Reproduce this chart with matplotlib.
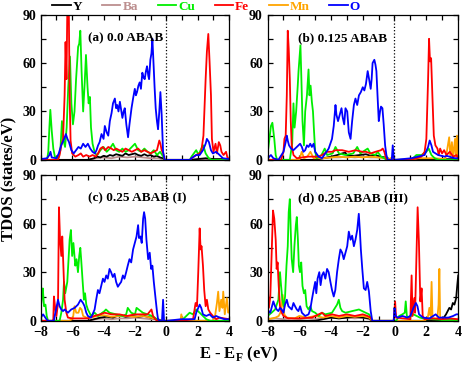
import matplotlib
matplotlib.use("Agg")
import matplotlib.pyplot as plt
from matplotlib.ticker import MultipleLocator

plt.rcParams['font.family'] = ['Liberation Serif', 'DejaVu Serif']
plt.rcParams['font.weight'] = 'bold'
plt.rcParams['mathtext.fontset'] = 'custom'
plt.rcParams['mathtext.bf'] = 'Liberation Serif:bold'

species = ["Y", "Ba", "Cu", "Fe", "Mn", "O"]
colors = {"Y": "black", "Ba": "#bc8f8f", "Cu": "#00ee00", "Fe": "red", "Mn": "orange", "O": "blue"}
panel_titles = ["(a) 0.0 ABAB", "(b) 0.125 ABAB", "(c) 0.25 ABAB (I)", "(d) 0.25 ABAB (III)"]
x_ticks = [-8, -6, -4, -2, 0, 2, 4]
y_ticks = [0, 30, 60, 90]

# ---------------- panel (a) ----------------
a_Y_e = [-8, -5.0, -4.8, -4.6, -4.4, -4.2, -4.0, -3.8, -3.6, -3.4, -3.2, -3.0, -2.8, -2.6, -2.4, -2.2, -2.0, -1.8, -1.6, -1.4, -1.2, -1.0, -0.8, -0.6, -0.4, -0.2, -0.1, 0, 1.5, 2.0, 2.5, 3.0, 3.5, 4.0]
a_Y_v = [0, 0, 0.5, 1, 2, 1.5, 2.5, 2, 3, 2.5, 3.5, 3, 2.5, 4, 3, 3.5, 4, 3, 2.5, 3.5, 2.5, 3, 2, 2.5, 1.5, 1, 0, 0, 0, 0.5, 1, 0.5, 0.5, 0.3]
a_Ba_e = [-8, -5.0, -4.5, -4.0, -3.5, -3.0, -2.5, -2.0, -1.5, -1.0, -0.5, -0.1, 0, 4]
a_Ba_v = [0, 0, 1, 1.5, 1, 2, 1.5, 2, 1.5, 1, 1, 0, 0, 0]
a_Cu_e = [-8.0, -7.6, -7.52, -7.45, -7.39, -7.3, -7.2, -7.1, -6.9, -6.75, -6.65, -6.55, -6.45, -6.35, -6.25, -6.14, -6.05, -5.95, -5.85, -5.75, -5.62, -5.55, -5.48, -5.4, -5.3, -5.2, -5.12, -5.02, -4.95, -4.87, -4.8, -4.7, -4.55, -4.4, -4.2, -4.0, -3.8, -3.6, -3.4, -3.2, -3.0, -2.8, -2.6, -2.4, -2.2, -2.0, -1.8, -1.6, -1.4, -1.2, -1.0, -0.8, -0.6, -0.4, -0.2, -0.1, 0.0,
          1.5, 1.6, 1.75, 1.9, 2.05, 2.22, 2.35, 2.5, 2.7, 2.9, 4.0]
a_Cu_v = [0, 0, 5, 20, 31, 18, 7, 2, 1, 6, 24, 12, 8, 20, 45, 64, 35, 22, 30, 50, 70, 72, 80, 55, 30, 48, 65, 45, 35, 39, 20, 10, 4, 3, 6, 8, 5, 7, 10, 6, 5, 7, 5, 6, 8, 10, 6, 5, 7, 5, 4, 6, 3, 5, 2, 0, 0,
          0, 2, 4, 6, 3, 7, 9, 4, 1, 0, 0]
a_Fe_e = [-8.0, -6.9, -6.8, -6.69, -6.58, -6.48, -6.42, -6.36, -6.3, -6.22, -6.16, -6.1, -6.0, -5.8, -5.6, -5.45, -5.3, -5.1, -4.9, -4.7, -4.5, -4.35, -4.2, -4.05, -3.9, -3.7, -3.5, -3.35, -3.2, -3.0, -2.8, -2.6, -2.4, -2.2, -2.0, -1.8, -1.6, -1.4, -1.2, -1.0, -0.8, -0.6, -0.45, -0.38, -0.3, -0.2, -0.1, 0.0,
          1.5, 1.6, 1.9, 2.1, 2.22, 2.36, 2.5, 2.58, 2.67, 2.75, 2.84, 2.9, 3.0, 3.13, 3.22, 3.34, 3.43, 3.51, 3.64, 3.8, 3.9, 4.0]
a_Fe_v = [0, 0, 3, 9, 13, 40, 73, 50, 100, 100, 40, 12, 4, 2, 3, 4, 2, 3, 2, 3, 2, 4, 7, 8, 6, 8, 7, 6, 7, 6, 5, 7, 6, 5, 6, 7, 5, 6, 5, 4, 5, 6, 12, 10, 6, 4, 0, 0,
          0, 1, 3, 4, 5, 15, 50, 67, 78, 61, 40, 13, 5, 10, 4, 11, 9, 5, 3, 5, 1, 1]
a_O_e = [-8.0, -7.6, -7.45, -7.38, -7.3, -7.0, -6.85, -6.7, -6.55, -6.4, -6.3, -6.2, -6.05, -5.9, -5.75, -5.6, -5.45, -5.3, -5.15, -5.0, -4.85, -4.7, -4.55, -4.45, -4.35, -4.25, -4.13, -4.0, -3.92, -3.8, -3.7, -3.6, -3.49, -3.4, -3.28, -3.2, -3.13, -3.05, -2.96, -2.88, -2.8, -2.72, -2.65, -2.55, -2.44, -2.35, -2.22, -2.12, -2.01, -1.94, -1.87, -1.78, -1.7, -1.62, -1.53, -1.45, -1.38, -1.3, -1.23, -1.15, -1.1, -1.02, -0.95, -0.89, -0.81, -0.75, -0.68, -0.6, -0.53, -0.45, -0.38, -0.3, -0.21, -0.11, 0.0,
         1.5, 1.59, 1.9, 2.12, 2.33, 2.5, 2.58, 2.71, 2.84, 2.96, 3.17, 3.39, 3.6, 4.0]
a_O_v = [0.5, 1, 3, 5, 1.5, 1, 4, 9, 12, 16, 13, 11, 6, 4, 6, 8, 7, 10, 8, 10, 7, 5, 4, 6, 9, 11, 16, 13, 21, 17, 15, 24, 29, 35, 38, 32, 34, 30, 36, 31, 26, 30, 32, 22, 14, 22, 32, 38, 44, 40, 42, 46, 48, 44, 54, 51, 50, 55, 58, 52, 50, 62, 66, 75, 58, 45, 32, 24, 19, 30, 42, 28, 5, 0, 0,
         0, 1, 3, 3, 6, 10, 13, 11, 6, 4, 5, 3, 1, 0.5]

# ---------------- panel (b) ----------------
b_Y_e = [-8, -5.0, -4.5, -4.0, -3.6, -3.3, -3.1, -3.0, -2.6, -2.2, -1.8, -1.5, -1.2, -0.9, -0.6, -0.3, 0, 4]
b_Y_v = [0, 0, 1, 2, 3, 4, 4.5, 3, 2.5, 3, 3.5, 2.5, 3, 2, 1.5, 0.5, 0, 0.5]
b_Ba_e = [-8, -5.0, -4.5, -4.0, -3.5, -3.0, -2.5, -2.0, -1.5, -1.0, -0.5, -0.1, 0, 4]
b_Ba_v = [0, 0, 1, 1.5, 1.5, 2, 1.5, 2, 1.5, 1.5, 1, 0, 0, 0]
b_Cu_e = [-8.0, -7.96, -7.79, -7.7, -7.58, -7.49, -7.4, -6.6, -6.45, -6.37, -6.3, -6.2, -6.1, -6.05, -5.93, -5.87, -5.8, -5.71, -5.63, -5.52, -5.42, -5.36, -5.29, -5.21, -5.14, -5.08, -5.0, -4.9, -4.6, -4.4, -4.25, -3.9, -3.72, -3.5, -3.1, -2.6, -2.35, -2.15, -2.0, -1.69, -1.52, -1.2, -1.06, -0.85, -0.64, -0.5, 0.0,
          1.06, 1.38, 1.7, 2.01, 2.16, 2.33, 2.54, 2.8, 4.0]
b_Cu_v = [6, 7, 21, 23, 13, 3, 0, 0, 10, 35, 20, 30, 46, 55, 71, 50, 24, 9, 30, 40, 56, 40, 46, 36, 30, 19, 5, 1, 3, 7, 3, 4, 8, 4, 3, 4, 8, 4, 5, 7, 4, 3, 5, 2, 1, 0, 0,
          0, 3, 3, 5, 7, 3, 1, 0, 0]
b_Fe_e = [-8.0, -7.15, -7.0, -6.94, -6.86, -6.79, -6.73, -6.67, -6.6, -6.54, -6.48, -6.37, -6.16, -5.5, -4.78, -4.57, -4.25, -3.94, -3.72, -3.3, -2.88, -2.46, -2.03, -1.8, -1.5, -1.2, -0.85, -0.74, -0.64, -0.53, -0.42, 0.0,
          1.06, 1.7, 1.9, 2.01, 2.12, 2.18, 2.24, 2.31, 2.39, 2.48, 2.58, 2.71, 2.79, 2.88, 3.0, 3.13, 3.28, 3.49, 3.7, 3.92, 4.0]
b_Fe_v = [0, 0, 5, 13, 15, 40, 80, 69, 50, 24, 9, 3, 1, 2, 2, 3, 5, 5, 6, 6, 5, 6, 5, 5, 4, 5, 6, 7, 5, 1, 0, 0,
          0, 2, 5, 13, 50, 75, 61, 63, 40, 15, 9, 7, 3, 7, 4, 6, 3, 5, 2, 3, 1]
b_Mn_e = [-8, -6.0, -5.85, -5.7, -5.5, -5.3, -5.1, -4.5, -4.0, -3.5, -3.0, -2.5, -2.0, -1.5, -1.0, -0.5, -0.3, -0.1, 0,
          1.0, 1.5, 2.0, 2.5, 3.2, 3.3, 3.45, 3.52, 3.62, 3.7, 3.82, 3.87, 3.94, 4.0]
b_Mn_v = [0, 0, 5, 1, 2, 5, 1, 1, 1.5, 2, 1.5, 2, 1.5, 2, 1.5, 1, 0.5, 2, 0,
          0, 1, 1, 1, 0.5, 5, 14, 2, 11, 2, 13, 2, 15, 3]
b_O_e = [-8.0, -7.79, -7.64, -7.32, -7.0, -6.86, -6.79, -6.73, -6.65, -6.52, -6.37, -6.16, -5.95, -5.84, -5.74, -5.63, -5.52, -5.42, -5.31, -5.21, -5.1, -5.0, -4.78, -4.57, -4.36, -4.15, -3.94, -3.83, -3.72, -3.66, -3.56, -3.45, -3.34, -3.26, -3.17, -3.09, -2.98, -2.88, -2.77, -2.67, -2.56, -2.46, -2.35, -2.24, -2.12, -2.0, -1.9, -1.8, -1.69, -1.6, -1.5, -1.44, -1.38, -1.27, -1.2, -1.14, -1.06, -0.99, -0.91, -0.85, -0.76, -0.68, -0.59, -0.51, -0.42, -0.17, -0.11, -0.04, 0.0,
         1.06, 1.9, 2.12, 2.22, 2.33, 2.43, 2.75, 3.17, 3.28, 3.81, 4.0]
b_O_v = [1, 3, 1, 0, 5, 11, 15, 12, 9, 7, 6, 8, 10, 8, 5, 6, 9, 8, 10, 8, 10, 5, 2, 1, 4, 7, 13, 21, 34, 28, 24, 28, 32, 26, 22, 32, 30, 17, 13, 24, 34, 38, 34, 40, 42, 45, 43, 47, 55, 50, 44, 50, 60, 62, 59, 55, 38, 24, 30, 33, 32, 22, 9, 3, 0, 0, 9, 1, 0,
         1, 3, 8, 12, 9, 5, 3, 2, 2.5, 1, 1]

# ---------------- panel (c) ----------------
c_Y_e = [-8, -5.0, -4.6, -4.2, -3.8, -3.4, -3.0, -2.6, -2.2, -1.8, -1.4, -1.0, -0.6, -0.3, 4]
c_Y_v = [0, 0, 1, 2, 2.5, 2, 3.5, 2.5, 3, 2.5, 3, 2, 1, 0, 0]
c_Ba_e = [-8, -5.0, -4.5, -4.0, -3.5, -3.0, -2.5, -2.0, -1.5, -1.0, -0.5, -0.3, 4]
c_Ba_v = [0, 0, 1, 1.5, 1, 1.5, 1.5, 2, 1.5, 1, 1, 0, 0]
c_Cu_e = [-8.0, -7.92, -7.87, -7.79, -7.7, -7.62, -7.53, -6.8, -6.69, -6.58, -6.52, -6.44, -6.31, -6.16, -6.08, -6.0, -5.92, -5.8, -5.72, -5.63, -5.55, -5.48, -5.42, -5.33, -5.25, -5.18, -5.1, -5.0, -4.79, -4.57, -4.36, -3.94, -3.85, -3.62, -3.2, -2.77, -2.56, -2.46, -2.24, -2.0, -1.9, -1.5, -1.2, -0.9, -0.6, -0.4, 0.0,
          0.95, 1.27, 1.48, 1.69, 1.9, 2.12, 2.33, 2.54, 2.8, 4.0]
c_Cu_v = [8, 15, 20, 9, 10, 3, 0, 0, 5, 13, 24, 17, 24, 50, 56, 40, 48, 34, 38, 30, 40, 45, 37, 24, 13, 17, 10, 7, 3, 5, 3, 6, 7, 5, 4, 3, 4, 8, 5, 4, 8, 5, 4, 3, 1, 0, 0,
          0, 3, 5, 4, 7, 5, 3, 1, 0, 0]
c_Fe_e = [-8.0, -7.25, -7.2, -7.16, -7.07, -7.0, -6.9, -6.84, -6.77, -6.69, -6.63, -6.56, -6.48, -6.37, -6.27, -6.0, -5.5, -5.0, -4.6, -4.2, -3.94, -3.5, -3.0, -2.5, -2.0, -1.5, -1.2, -0.95, -0.85, -0.7, -0.6, 0.0,
          0.95, 1.7, 1.86, 1.95, 2.03, 2.12, 2.18, 2.24, 2.33, 2.41, 2.5, 2.58, 2.67, 2.79, 2.96, 3.17, 3.39, 4.0]
c_Fe_v = [0, 0, 1, 15, 7, 3, 11, 70, 50, 40, 52, 34, 13, 5, 2, 1.5, 1.5, 1.5, 3, 4, 5, 4, 4, 3, 4, 4, 4, 7, 3, 1, 0, 0,
          0, 1, 11, 9, 30, 57, 44, 46, 34, 19, 9, 13, 7, 5, 3, 1, 2, 1]
c_Mn_e = [-8, -6.2, -6.0, -5.93, -5.85, -5.74, -5.6, -5.5, -5.4, -5.3, -5.1, -4.8, -4.4, -4.0, -3.5, -3.0, -2.5, -2.0, -1.5, -1.0, -0.6, -0.4, 0, 0.9, 0.95, 1.05,
          2.95, 3.1, 3.22, 3.3, 3.38, 3.49, 3.57, 3.62, 3.72, 3.85, 3.94, 4.0]
c_Mn_v = [0, 0, 1, 3, 9, 5, 5, 8, 7, 3, 2, 2, 3, 3.5, 2.5, 3, 3, 2.5, 3, 2, 1, 0, 0, 0, 4, 0,
          0, 3, 11, 18, 6, 13, 8, 18, 4, 14, 5, 6]
c_O_e = [-8.0, -7.85, -7.64, -7.54, -7.16, -7.11, -6.9, -6.8, -6.69, -6.58, -6.48, -6.27, -6.06, -5.84, -5.63, -5.46, -5.31, -5.21, -5.1, -5.0, -4.79, -4.57, -4.47, -4.36, -4.26, -4.15, -4.04, -3.94, -3.83, -3.73, -3.62, -3.52, -3.41, -3.3, -3.2, -3.09, -2.99, -2.88, -2.77, -2.67, -2.56, -2.46, -2.35, -2.24, -2.12, -2.01, -1.9, -1.8, -1.74, -1.65, -1.57, -1.48, -1.42, -1.35, -1.27, -1.16, -1.06, -0.97, -0.89, -0.8, -0.68, -0.59, -0.53, -0.42, -0.28, -0.21, -0.15, 0.0,
         0.95, 1.8, 1.9, 2.12, 2.22, 2.33, 2.54, 2.75, 2.96, 3.17, 3.39, 3.7, 4.0]
c_O_v = [2, 4, 1, 0, 0, 3, 13, 9, 7, 6, 7, 5, 7, 8, 10, 13, 11, 9, 5, 3, 2, 7, 13, 19, 17, 21.5, 26, 24, 28, 26, 32, 30, 27, 29, 24, 21, 22.5, 24, 28, 26, 30, 34, 38, 36, 44, 48, 52, 59, 51, 52, 48, 63, 67, 63, 50, 38, 42, 32, 34, 24, 13, 5, 1, 0, 0, 13, 0, 0,
         1, 1, 5, 10, 8, 4, 3, 4, 2, 3, 2, 1, 1]

# ---------------- panel (d) ----------------
d_Y_e = [-8, -5, -4.5, -4.0, -3.5, -3.0, -2.5, -2.0, -1.6, -1.4, 2.9, 3.04, 3.25, 3.46, 3.57, 3.68, 3.78, 3.89, 3.96, 4.02]
d_Y_v = [0, 0, 1, 2, 1.5, 2, 2.5, 2, 1.5, 0, 0, 1, 4, 8, 7, 11, 10, 14, 22, 28]
d_Ba_e = [-8, -7.5, -7.0, -6.5, -6.0, -5.5, -5.0, -4.5, -4.0, -3.5, -3.0, -2.5, -2.0, -1.6, -1.4, 4]
d_Ba_v = [1, 1.5, 1, 1.5, 1, 1.5, 1, 1.5, 2, 1.5, 2, 1.5, 2, 1, 0, 0]
d_Cu_e = [-8.0, -7.75, -7.53, -7.32, -7.22, -7.15, -7.07, -6.98, -6.9, -6.81, -6.73, -6.67, -6.6, -6.54, -6.48, -6.39, -6.31, -6.22, -6.16, -6.09, -6.03, -5.96, -5.88, -5.8, -5.71, -5.63, -5.54, -5.42, -5.31, -5.2, -5.0, -4.78, -4.57, -4.36, -3.94, -3.62, -3.51, -3.41, -3.3, -3.09, -2.67, -2.24, -1.82, -1.6, -1.45, -1.4,
          0.1, 0.3, 0.5, 0.65, 0.71, 0.78, 0.9, 1.2, 1.4, 1.6, 2.0, 2.5, 3.0, 4.0]
d_Cu_v = [3, 5, 7, 13, 30, 21.5, 13, 9, 15, 34, 46, 67, 75, 55, 38, 30, 46, 59, 64, 50, 34, 30, 36, 21.5, 17, 19, 9, 7, 9, 6, 5, 3, 5, 4, 5, 10, 13, 8, 6, 5, 6, 7, 5, 4, 1, 0,
          0, 3, 4, 5, 12, 3, 2, 4, 3, 2, 1, 1, 0.5, 0.5]
d_Fe_e = [-8.0, -7.92, -7.83, -7.75, -7.66, -7.58, -7.49, -7.43, -7.37, -7.3, -7.22, -7.11, -7.0, -6.7, -6.0, -5.2, -4.57, -4.36, -3.94, -3.5, -3.0, -2.5, -2.0, -1.7, -1.5, -1.4,
          -0.05, 0.04, 0.1, 1.0, 1.08, 1.14, 1.25, 1.3, 1.46, 1.54, 1.63, 1.71, 1.78, 1.9, 2.5, 3.0, 3.5, 4.0]
d_Fe_v = [22, 8, 15, 40, 68, 63, 50, 32, 36, 21.5, 9, 5, 3, 1.5, 1.5, 2, 5, 3, 4, 3, 4, 3, 4, 3, 2, 0,
          0, 12, 2, 1, 28, 3, 14, 5, 70, 49, 12, 20, 3, 1, 1.5, 1, 1.5, 1]
d_Mn_e = [-8, -7.5, -7.3, -7.15, -7.05, -6.95, -6.8, -6.3, -6.0, -5.5, -5.0, -4.5, -4.0, -3.5, -3.0, -2.5, -2.0, -1.6, -1.4,
          1.9, 2.1, 2.2, 2.28, 2.34, 2.4, 2.7, 2.78, 2.83, 2.88, 3.0, 4.0]
d_Mn_v = [1, 2, 3, 6, 16, 4, 2, 1.5, 3, 2, 3, 2, 3, 2, 3, 2.5, 3, 2, 0,
          0, 2, 8, 3, 24, 1, 1, 10, 32, 2, 0.5, 0.5]
d_O_e = [-8.0, -7.92, -7.83, -7.75, -7.64, -7.53, -7.43, -7.32, -7.22, -7.11, -7.0, -6.9, -6.79, -6.69, -6.48, -6.37, -6.27, -6.16, -6.06, -5.95, -5.84, -5.63, -5.42, -5.31, -5.21, -5.1, -5.0, -4.93, -4.85, -4.74, -4.66, -4.57, -4.47, -4.36, -4.25, -4.15, -4.04, -3.94, -3.83, -3.73, -3.62, -3.51, -3.41, -3.3, -3.2, -3.09, -2.98, -2.88, -2.77, -2.67, -2.56, -2.46, -2.35, -2.25, -2.18, -2.12, -2.03, -1.93, -1.82, -1.72, -1.61, -1.5, -1.4,
         -0.05, 0.0, 0.08, 0.2, 0.5, 0.8, 1.0, 1.2, 1.35, 1.45, 1.55, 1.8, 2.2, 2.6, 2.8, 3.0, 3.4, 3.7, 3.9, 4.0]
d_O_v = [3, 6, 5, 8, 12, 9, 7, 6, 8, 7, 5, 10, 13, 9, 7, 11, 9, 7, 6, 9, 5, 3, 4, 7, 13, 19, 24, 17, 26, 30, 22, 28, 30, 26, 32, 30, 24, 19, 15, 19, 30, 38, 44, 42, 38, 42, 46, 55, 50, 52.5, 46, 50, 56, 66, 55, 44, 32, 20, 19, 24, 18, 6, 0,
         0, 8, 3, 2, 3, 2, 3, 8, 11, 9, 4, 2, 1.5, 4, 2, 2, 2, 3, 4, 4]

panels = [
    {"Y": (a_Y_e, a_Y_v), "Ba": (a_Ba_e, a_Ba_v), "Cu": (a_Cu_e, a_Cu_v), "Fe": (a_Fe_e, a_Fe_v), "O": (a_O_e, a_O_v)},
    {"Y": (b_Y_e, b_Y_v), "Ba": (b_Ba_e, b_Ba_v), "Cu": (b_Cu_e, b_Cu_v), "Fe": (b_Fe_e, b_Fe_v), "Mn": (b_Mn_e, b_Mn_v), "O": (b_O_e, b_O_v)},
    {"Y": (c_Y_e, c_Y_v), "Ba": (c_Ba_e, c_Ba_v), "Cu": (c_Cu_e, c_Cu_v), "Fe": (c_Fe_e, c_Fe_v), "Mn": (c_Mn_e, c_Mn_v), "O": (c_O_e, c_O_v)},
    {"Y": (d_Y_e, d_Y_v), "Ba": (d_Ba_e, d_Ba_v), "Cu": (d_Cu_e, d_Cu_v), "Fe": (d_Fe_e, d_Fe_v), "Mn": (d_Mn_e, d_Mn_v), "O": (d_O_e, d_O_v)},
]

draw_order = ["Ba", "Y", "Mn", "Cu", "Fe", "O"]

fig = plt.figure(figsize=(4.63, 3.65), dpi=100)
rects = [
    [0.088, 0.562, 0.407, 0.398],
    [0.578, 0.562, 0.411, 0.398],
    [0.088, 0.121, 0.407, 0.400],
    [0.578, 0.121, 0.411, 0.400],
]

handles = {}
for i, (rect, data) in enumerate(zip(rects, panels)):
    ax = fig.add_axes(rect)
    for sp in draw_order:
        if sp not in data:
            continue
        e, v = data[sp]
        ln, = ax.plot(e, v, color=colors[sp], lw=1.3, label=sp)
        handles[sp] = ln
    ax.axvline(0, color="black", ls=":", lw=0.9)
    ax.set_xlim(-8, 4)
    ax.set_ylim(0, 90)
    ax.set_xticks(x_ticks)
    ax.set_yticks(y_ticks)
    ax.xaxis.set_minor_locator(MultipleLocator(1))
    ax.yaxis.set_minor_locator(MultipleLocator(15))
    ax.tick_params(which="both", direction="in", top=True, right=True, length=3.5, width=0.9, labelsize=10)
    if i < 2:
        ax.tick_params(labelbottom=False)
    for s in ax.spines.values():
        s.set_linewidth(0.9)
    for lab in ax.get_xticklabels() + ax.get_yticklabels():
        lab.set_fontweight("bold")
    x0 = 0.25 if i % 2 == 0 else 0.16
    ax.text(x0, 0.84, panel_titles[i], transform=ax.transAxes, fontsize=9.5,
            fontweight="bold", va="center", ha="left")

fig.legend([handles[s] for s in species], species, loc="center", bbox_to_anchor=(0.445, 0.982),
           ncol=6, frameon=False, labelcolor="linecolor", handlelength=1.4,
           handletextpad=0.15, columnspacing=1.5, borderpad=0, prop={"weight": "bold", "size": 9.5})

fig.text(0.515, 0.03, r"E - E$_\mathbf{F}$ (eV)", ha="center", va="center", fontsize=12, fontweight="bold")
fig.text(0.02, 0.51, "TDOS (states/eV)", ha="center", va="center", rotation=90, fontsize=12, fontweight="bold")

fig.savefig("out.png", dpi=100)
